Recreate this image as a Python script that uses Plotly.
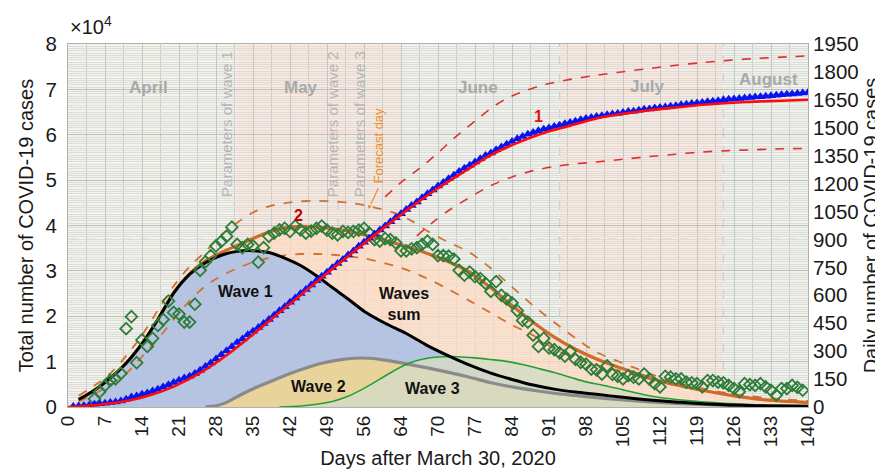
import plotly.graph_objects as go

# ---------------- data ----------------
# daily observed cases (green diamonds, right axis)
obs_days = list(range(5, 140))
obs_daily = [43, 82, 116, 143, 151, 180, 421, 485, 238, 360, 325, 369, 438, 470, 569, 508, 499, 456, 456, 552,
             734, 780, 813, 865, 890, 917, 966,
             873, 856, 873, 865, 778, 856, 917, 934, 951, 960, 943, 972, 951, 934, 945, 960, 972, 950, 934, 925,
             943, 938, 943, 950, 960, 934, 899, 891, 905, 899, 882, 839,
             839, 850, 856, 873, 891, 873, 813, 813, 810, 795, 734, 708, 725, 700, 690, 664, 621, 673, 600, 580,
             560, 517, 465, 456, 386, 325, 369, 317, 308, 291, 273, 299, 256, 240, 230, 204, 200,
             177, 221, 175, 165, 151, 169, 160, 151, 177, 150, 125, 108, 165, 160, 151, 151, 134, 130, 125, 108,
             142, 142, 134, 130, 116, 99, 82, 125, 120, 116, 125, 108, 90, 64, 99, 99, 116, 105, 90]

# cumulative observed cases, x10^4 (blue triangles, left axis)
cum_days = list(range(1, 141))
cum_obs = [0.01, 0.02, 0.03, 0.04, 0.06, 0.07, 0.08, 0.10, 0.11, 0.13,
           0.17, 0.22, 0.24, 0.28, 0.31, 0.35, 0.39, 0.44, 0.49, 0.54,
           0.59, 0.64, 0.68, 0.74, 0.81, 0.89, 0.97, 1.06, 1.15, 1.24,
           1.33, 1.42, 1.50, 1.59, 1.67, 1.75, 1.84, 1.93, 2.02, 2.12,
           2.21, 2.31, 2.40, 2.50, 2.59, 2.69, 2.78, 2.88, 2.97, 3.07,
           3.16, 3.25, 3.35, 3.44, 3.54, 3.63, 3.72, 3.81, 3.90, 3.99,
           4.08, 4.17, 4.26, 4.35, 4.44, 4.52, 4.61, 4.70, 4.78, 4.87,
           4.95, 5.03, 5.11, 5.19, 5.26, 5.33, 5.40, 5.47, 5.54, 5.60,
           5.67, 5.73, 5.79, 5.85, 5.91, 5.96, 6.01, 6.05, 6.09, 6.12,
           6.15, 6.18, 6.21, 6.24, 6.27, 6.30, 6.33, 6.36, 6.38, 6.40,
           6.42, 6.44, 6.46, 6.47, 6.49, 6.51, 6.52, 6.54, 6.56, 6.57,
           6.59, 6.60, 6.61, 6.63, 6.64, 6.66, 6.67, 6.69, 6.70, 6.71,
           6.73, 6.74, 6.75, 6.77, 6.78, 6.79, 6.80, 6.81, 6.82, 6.83,
           6.84, 6.85, 6.86, 6.87, 6.88, 6.89, 6.90, 6.91, 6.92, 6.93]

# model cumulative (red solid) and its bounds (red dashed), x10^4
model_cum_days = [0, 5, 10, 15, 20, 25, 30, 35, 40, 45, 50, 55, 60, 65, 70, 75, 80, 85, 90, 95, 100, 105,
                  110, 115, 120, 125, 130, 135, 140]
model_cum = [0.00, 0.04, 0.11, 0.24, 0.45, 0.75, 1.14, 1.60, 2.08, 2.56, 3.04, 3.51, 3.97, 4.41, 4.82, 5.19,
             5.55, 5.82, 6.04, 6.20, 6.36, 6.46, 6.54, 6.60, 6.66, 6.70, 6.73, 6.75, 6.77]
cum_up_days = [60, 63, 66.5, 70, 73, 77, 80, 83, 86.5, 90, 95, 100, 105, 110, 115, 120, 125, 130, 135, 140]
cum_up = [4.63, 4.95, 5.26, 5.60, 5.92, 6.30, 6.58, 6.80, 6.97, 7.10, 7.22, 7.31, 7.39, 7.46, 7.53, 7.59,
          7.64, 7.68, 7.71, 7.74]
cum_lo_days = [66, 69, 72, 76, 80, 84, 88, 92, 96, 100, 105, 110, 115, 120, 125, 130, 135, 140]
cum_lo = [3.77, 4.07, 4.33, 4.62, 4.88, 5.07, 5.21, 5.30, 5.36, 5.40, 5.46, 5.52, 5.57, 5.62, 5.65, 5.67,
          5.69, 5.70]

# daily model waves (right axis)
w1_days = [2, 5, 8, 11, 14, 17, 20, 23, 26, 29, 32, 35, 38, 41, 44, 47, 50, 53, 56, 60, 64, 68, 72, 76, 80,
           84, 88, 92, 96, 100, 105, 110, 115, 120, 125, 130, 135, 140]
w1_vals = [40, 90, 155, 235, 340, 470, 612, 712, 775, 815, 836, 840, 830, 800, 760, 705, 642, 580, 515, 450,
           395, 330, 275, 225, 182, 148, 118, 96, 80, 68, 52, 38, 27, 17, 11, 7, 5, 4]
w2_days = [26, 28, 30, 33, 36, 39, 42, 45, 48, 51, 54, 57, 60, 64, 68, 72, 76, 80, 84, 88, 92, 96, 100, 105,
           110, 115, 120, 125, 130, 135, 140]
w2_vals = [0, 6, 25, 70, 110, 145, 180, 210, 235, 252, 262, 262, 252, 232, 210, 186, 160, 130, 108, 90, 74,
           62, 50, 38, 28, 20, 14, 9, 6, 4, 2]
w3_days = [40, 44, 47, 50, 53, 56, 59, 62, 65, 68, 71, 74, 77, 80, 83, 86, 89, 92, 95, 98, 101, 105, 110, 115,
           120, 125, 130, 135, 140]
w3_vals = [0, 5, 15, 30, 58, 100, 150, 200, 240, 262, 270, 270, 264, 255, 245, 228, 207, 185, 160, 135, 118,
           92, 60, 40, 28, 18, 12, 9, 7]
sum_days = [2, 5, 8, 11, 14, 17, 20, 23, 26, 29, 32, 35, 38, 41, 44, 47, 50, 53, 56, 60, 64, 68, 72, 76, 80,
            84, 88, 92, 96, 100, 105, 112, 120, 126, 132, 140]
sum_vals = [40, 90, 155, 235, 340, 470, 615, 715, 785, 830, 868, 905, 940, 962, 970, 967, 958, 945, 925, 895,
            862, 825, 780, 725, 640, 545, 455, 375, 310, 258, 205, 140, 90, 60, 38, 24]
up_days = [2, 5, 8, 11, 14, 17, 20, 23, 26, 29, 32, 35, 38, 41, 44, 47, 50, 53, 56, 59, 62, 65, 68, 72, 76,
           80, 84, 88, 92, 96, 100, 105, 110, 115, 120, 125, 130, 135, 140]
up_vals = [60, 115, 180, 275, 385, 520, 650, 755, 835, 925, 990, 1045, 1078, 1095, 1105, 1107, 1105, 1098,
           1085, 1065, 1040, 1000, 945, 885, 830, 745, 645, 545, 455, 370, 295, 235, 180, 130, 100, 73, 55,
           42, 33]
lo_days = [2, 5, 8, 11, 14, 17, 20, 23, 26, 29, 32, 35, 38, 41, 44, 47, 50, 53, 56, 60, 64, 68, 72, 76, 80,
           84, 88, 92, 96, 100, 105, 110, 115, 120, 125, 130, 135, 140]
lo_vals = [30, 70, 120, 180, 270, 365, 470, 570, 650, 705, 745, 778, 800, 815, 822, 822, 818, 810, 798, 772,
           738, 690, 632, 570, 505, 440, 385, 312, 262, 225, 190, 150, 115, 88, 65, 48, 35, 25]

# axis ticks
x_tickvals = list(range(0, 141, 7))
x_ticktext = ["0", "7", "14", "21", "28", "35", "42", "49", "56", "64", "70", "77", "84", "91", "98", "105",
              "112", "119", "126", "133", "140"]

# month backgrounds and labels
month_names = ["April", "May", "June", "July", "August"]
month_start = [0, 32, 63, 93, 124]
month_end = [32, 63, 93, 124, 140]
month_colors = ["#f4f3ea", "#fce9dc", "#eff3ea", "#fce9dc", "#eff3ea"]
month_label_x = [15.2, 44.0, 77.5, 109.7, 132.5]
month_label_y = [1715, 1715, 1715, 1720, 1762]

# ---------------- figure ----------------
FONT = "Liberation Sans, Arial, sans-serif"
fig = go.Figure()

# fills (daily axis y)
fig.add_trace(go.Scatter(x=sum_days, y=sum_vals, mode="lines", line=dict(width=0, shape="spline", smoothing=0.8),
                         fill="tozeroy", fillcolor="rgba(255,219,194,0.7)", yaxis="y", hoverinfo="skip"))
fig.add_trace(go.Scatter(x=w1_days, y=w1_vals, mode="lines", line=dict(width=0, shape="spline", smoothing=0.8),
                         fill="tozeroy", fillcolor="rgba(156,186,235,0.72)", yaxis="y", hoverinfo="skip"))
fig.add_trace(go.Scatter(x=w2_days, y=w2_vals, mode="lines", line=dict(width=0, shape="spline", smoothing=0.8),
                         fill="tozeroy", fillcolor="rgba(246,217,135,0.78)", yaxis="y", hoverinfo="skip"))
fig.add_trace(go.Scatter(x=w3_days, y=w3_vals, mode="lines", line=dict(width=0, shape="spline", smoothing=0.8),
                         fill="tozeroy", fillcolor="rgba(214,220,196,0.82)", yaxis="y", hoverinfo="skip"))

# lines (daily axis)
fig.add_trace(go.Scatter(x=up_days, y=up_vals, mode="lines", yaxis="y",
                         line=dict(color="#d2722e", width=1.8, dash="dash", shape="spline", smoothing=0.8)))
fig.add_trace(go.Scatter(x=lo_days, y=lo_vals, mode="lines", yaxis="y",
                         line=dict(color="#d2722e", width=1.8, dash="dash", shape="spline", smoothing=0.8)))
fig.add_trace(go.Scatter(x=sum_days, y=sum_vals, mode="lines", yaxis="y",
                         line=dict(color="#cf6a28", width=3.2, shape="spline", smoothing=0.8)))
fig.add_trace(go.Scatter(x=w2_days, y=w2_vals, mode="lines", yaxis="y",
                         line=dict(color="#8a8a8a", width=3.2, shape="spline", smoothing=0.8)))
fig.add_trace(go.Scatter(x=w3_days, y=w3_vals, mode="lines", yaxis="y",
                         line=dict(color="#22a035", width=1.6, shape="spline", smoothing=0.8)))
fig.add_trace(go.Scatter(x=w1_days, y=w1_vals, mode="lines", yaxis="y",
                         line=dict(color="#000000", width=3, shape="spline", smoothing=0.8)))
fig.add_trace(go.Scatter(x=obs_days, y=obs_daily, mode="markers", yaxis="y",
                         marker=dict(symbol="diamond-open", size=9, color="#2e7d3a", line=dict(width=1.8))))

# cumulative (left axis y2, drawn on top)
fig.add_trace(go.Scatter(x=cum_days, y=cum_obs, mode="markers", yaxis="y2",
                         marker=dict(symbol="triangle-up", size=9, color="#0a14f0")))
fig.add_trace(go.Scatter(x=model_cum_days, y=model_cum, mode="lines", yaxis="y2",
                         line=dict(color="#ff0a0a", width=2.6, shape="spline", smoothing=0.8)))
fig.add_trace(go.Scatter(x=cum_up_days, y=cum_up, mode="lines", yaxis="y2",
                         line=dict(color="#e23030", width=1.6, dash="dash", shape="spline", smoothing=0.8)))
fig.add_trace(go.Scatter(x=cum_lo_days, y=cum_lo, mode="lines", yaxis="y2",
                         line=dict(color="#e23030", width=1.6, dash="dash", shape="spline", smoothing=0.8)))

shapes = []
for s, e, c in zip(month_start, month_end, month_colors):
    shapes.append(dict(type="rect", xref="x", yref="paper", x0=s, x1=e, y0=0, y1=1,
                       fillcolor=c, line=dict(width=0), layer="below"))
# horizontal dashed reference at 900 daily cases
shapes.append(dict(type="line", xref="paper", yref="y", x0=0, x1=1, y0=900, y1=900,
                   line=dict(color="#b8b8b8", width=1.3, dash="dash"), layer="below"))
# month boundary dashed lines
for d in [93, 124]:
    shapes.append(dict(type="line", xref="x", yref="paper", x0=d, x1=d, y0=0, y1=1,
                       line=dict(color="#c8c8c8", width=1.3, dash="dash"), layer="below"))
# parameter lines
for d in [31.5, 51.1, 56.1]:
    shapes.append(dict(type="line", xref="x", yref="y", x0=d, x1=d, y0=0, y1=1100,
                       line=dict(color="#c4c4c4", width=1.3, dash="dash"), layer="below"))
# forecast-day arrow shaft
shapes.append(dict(type="line", xref="x", yref="y", x0=58.7, x1=57.3, y0=1175, y1=1090,
                   line=dict(color="#e8912d", width=1.3), layer="above"))

ann = []
for name, x, y in zip(month_names, month_label_x, month_label_y):
    ann.append(dict(x=x, y=y, xref="x", yref="y", text="<b>%s</b>" % name, showarrow=False,
                    font=dict(size=17, color="#a9a9a9", family=FONT)))
param_text = ["Parameters of wave 1", "Parameters of wave 2", "Parameters of wave 3"]
param_x = [30.1, 50.2, 55.3]
for t, x in zip(param_text, param_x):
    ann.append(dict(x=x, y=1521, xref="x", yref="y", text=t, textangle=-90, showarrow=False,
                    font=dict(size=15, color="#b5b5b5", family=FONT)))
ann.append(dict(x=58.7, y=1406, xref="x", yref="y", text="Forecast day", textangle=-90, showarrow=False,
                font=dict(size=13, color="#e8912d", family=FONT)))
ann.append(dict(x=57.0, y=1077, xref="x", yref="y", text="▼", showarrow=False, textangle=25,
                font=dict(size=7, color="#e8912d", family=FONT)))
ann.append(dict(x=89.0, y=1563, xref="x", yref="y", text="<b>1</b>", showarrow=False,
                font=dict(size=16, color="#e01010", family=FONT)))
ann.append(dict(x=43.7, y=1030, xref="x", yref="y", text="<b>2</b>", showarrow=False,
                font=dict(size=16, color="#c00000", family=FONT)))
wave_text = ["Wave 1", "Waves<br>sum", "Wave 2", "Wave 3"]
wave_x = [33.5, 63.6, 47.4, 68.9]
wave_y = [622, 555, 110, 99]
for t, x, y in zip(wave_text, wave_x, wave_y):
    ann.append(dict(x=x, y=y, xref="x", yref="y", text="<b>%s</b>" % t, showarrow=False,
                    font=dict(size=16, color="#111111", family=FONT)))
ann.append(dict(x=0.0, y=1.05, xref="paper", yref="paper", xanchor="left", yanchor="middle",
                text="×10<sup>4</sup>", showarrow=False, font=dict(size=20, color="#1a1a1a", family=FONT)))

fig.update_layout(
    width=883, height=469,
    margin=dict(l=60, r=79, t=36, b=60),
    paper_bgcolor="white", plot_bgcolor="white",
    showlegend=False,
    font=dict(family=FONT, color="#1a1a1a"),
    shapes=shapes, annotations=ann,
    xaxis=dict(range=[0, 140], tickmode="array", tickvals=x_tickvals, ticktext=x_ticktext,
               tickangle=-90, tickfont=dict(size=19), ticks="",
               showgrid=True, gridcolor="#c6c6c6", gridwidth=1,
               minor=dict(tick0=0, dtick=3.5, showgrid=True, gridcolor="#c6c6c6", gridwidth=1),
               showline=True, mirror=True, linecolor="#b0b0b0", zeroline=False,
               title=dict(text="Days after March 30, 2020", font=dict(size=20), standoff=4)),
    yaxis=dict(side="right", range=[0, 1950], tick0=0, dtick=150, showgrid=False, zeroline=False,
               showline=True, linecolor="#b0b0b0", ticks="", tickfont=dict(size=20.5),
               title=dict(text="Daily number of COVID-19 cases", font=dict(size=20), standoff=6)),
    yaxis2=dict(side="left", overlaying="y", anchor="x", range=[0, 8], tick0=0, dtick=1,
                showgrid=True, gridcolor="#bdbdbd", gridwidth=1,
                minor=dict(tick0=0, dtick=0.05, showgrid=True, gridcolor="#dcdcdc", gridwidth=1),
                zeroline=False, showline=True, linecolor="#b0b0b0", ticks="", tickfont=dict(size=20.5),
                ticklabelstandoff=6,
                title=dict(text="Total number of COVID-19 cases", font=dict(size=20), standoff=6)),
)

fig.write_html("out.html")
